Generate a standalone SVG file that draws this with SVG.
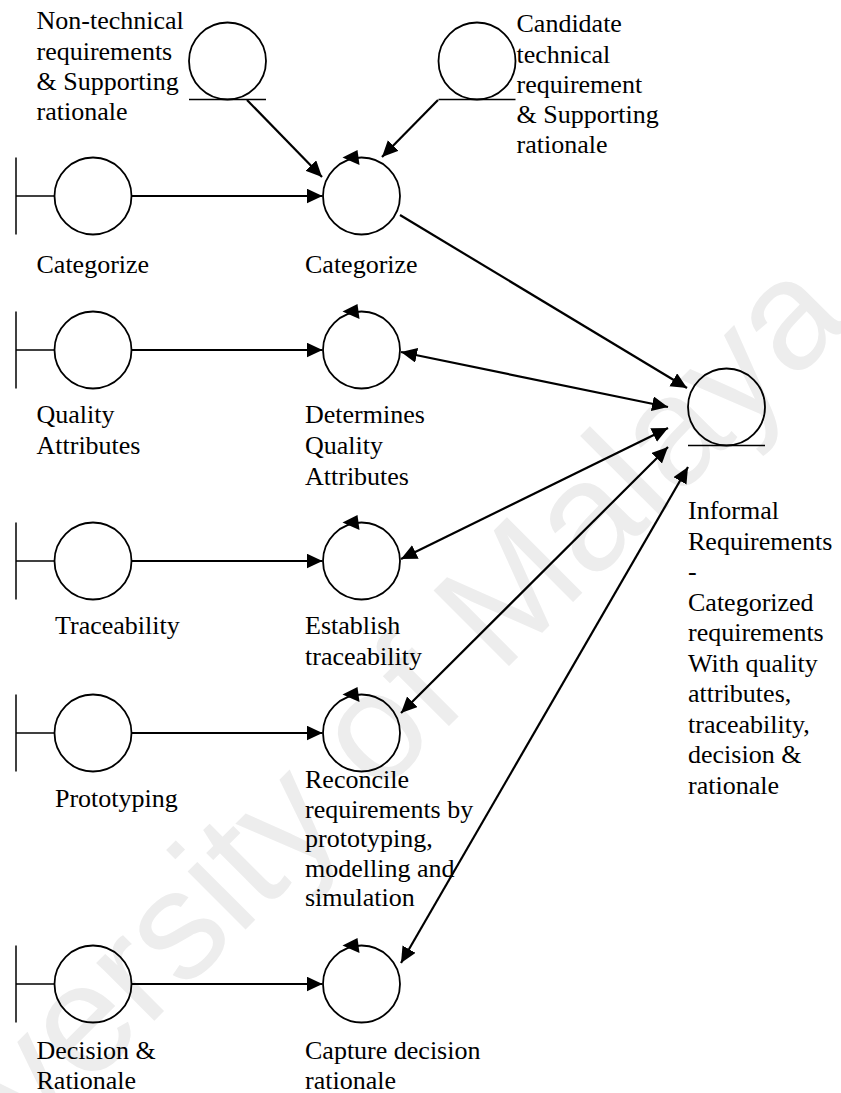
<svg xmlns="http://www.w3.org/2000/svg" width="841" height="1093" viewBox="0 0 841 1093">
  <defs>
    <style>
      .bg { fill: #ffffff; }
      .wm { font-family: "Liberation Sans", Arial, sans-serif; font-size: 155px; fill: #ededed; }
      .shape { fill: none; stroke: #000; stroke-width: 1.8; }
      .rule { fill: none; stroke: #000; stroke-width: 1.5; }
      .flow { fill: none; stroke: #000; stroke-width: 2.2; }
      .head { fill: #000; stroke: none; }
      .lbl { font-family: "Liberation Serif", "Times New Roman", serif; font-size: 26px; fill: #000; }
    </style>
    <marker id="arrow" markerUnits="userSpaceOnUse" markerWidth="18" markerHeight="16" refX="16" refY="7.5" orient="auto-start-reverse" viewBox="0 0 18 16">
      <path d="M0,0 L16,7.5 L0,15 z" fill="#000"/>
    </marker>
    <!-- control object: circle with a tangent arrowhead on top -->
    <g id="control">
      <circle cx="0" cy="0" r="38.5" class="shape"/>
      <polygon class="head" points="-19,-38.5 -4,-46 -2,-31"/>
    </g>
    <!-- boundary object: circle attached to a vertical bar -->
    <g id="boundary">
      <circle cx="0" cy="0" r="38.5" class="shape"/>
      <line x1="-77" y1="-38.5" x2="-77" y2="38.5" class="rule"/>
      <line x1="-77" y1="0" x2="-38.5" y2="0" class="rule"/>
    </g>
    <!-- entity object: circle resting on a line -->
    <g id="entity">
      <circle cx="0" cy="0" r="38.5" class="shape"/>
      <line x1="-38.5" y1="38.5" x2="38.5" y2="38.5" class="rule"/>
    </g>
  </defs>

  <rect class="bg" x="0" y="0" width="841" height="1093"/>

  <text class="wm" transform="translate(360,815) rotate(-45)" text-anchor="middle">University of Malaya</text>

  <g id="connectors">
    <line class="flow" x1="247" y1="100" x2="322" y2="177" marker-end="url(#arrow)"/>
    <line class="flow" x1="438" y1="100" x2="382" y2="157" marker-end="url(#arrow)"/>
    <line class="flow" x1="131.5" y1="196" x2="322.5" y2="196" marker-end="url(#arrow)"/>
    <line class="flow" x1="131.5" y1="350" x2="322.5" y2="350" marker-end="url(#arrow)"/>
    <line class="flow" x1="131.5" y1="561" x2="322.5" y2="561" marker-end="url(#arrow)"/>
    <line class="flow" x1="131.5" y1="733" x2="322.5" y2="733" marker-end="url(#arrow)"/>
    <line class="flow" x1="131.5" y1="984" x2="322.5" y2="984" marker-end="url(#arrow)"/>
    <line class="flow" x1="400" y1="215" x2="687" y2="388" marker-end="url(#arrow)"/>
    <line class="flow" x1="401" y1="352" x2="668" y2="407" marker-start="url(#arrow)" marker-end="url(#arrow)"/>
    <line class="flow" x1="401" y1="559" x2="668" y2="428" marker-start="url(#arrow)" marker-end="url(#arrow)"/>
    <line class="flow" x1="401" y1="713" x2="668" y2="447" marker-start="url(#arrow)" marker-end="url(#arrow)"/>
    <line class="flow" x1="401" y1="963" x2="688" y2="467" marker-start="url(#arrow)" marker-end="url(#arrow)"/>
  </g>

  <g id="non-technical-requirements">
    <use href="#entity" x="227.5" y="61"/>
    <text class="lbl" x="36.5"><tspan x="36.5" y="29.3">Non-technical</tspan><tspan x="36.5" y="59.5">requirements</tspan><tspan x="36.5" y="89.7">&amp; Supporting</tspan><tspan x="36.5" y="120">rationale</tspan></text>
  </g>

  <g id="candidate-technical-requirement">
    <use href="#entity" x="477" y="61"/>
    <text class="lbl"><tspan x="516.5" y="32.3">Candidate</tspan><tspan x="516.5" y="62.5">technical</tspan><tspan x="516.5" y="92.8">requirement</tspan><tspan x="516.5" y="123">&amp; Supporting</tspan><tspan x="516.5" y="153.3">rationale</tspan></text>
  </g>

  <g id="categorize-boundary">
    <use href="#boundary" x="93" y="196"/>
    <text class="lbl" x="36.5" y="273.3">Categorize</text>
  </g>
  <g id="categorize-control">
    <use href="#control" x="361.5" y="196"/>
    <text class="lbl" x="305" y="273.3">Categorize</text>
  </g>

  <g id="quality-attributes-boundary">
    <use href="#boundary" x="93" y="350"/>
    <text class="lbl"><tspan x="36.5" y="423.3">Quality</tspan><tspan x="36.5" y="454">Attributes</tspan></text>
  </g>
  <g id="determines-quality-attributes">
    <use href="#control" x="361.5" y="350"/>
    <text class="lbl"><tspan x="305" y="423.3">Determines</tspan><tspan x="305" y="454">Quality</tspan><tspan x="305" y="484.5">Attributes</tspan></text>
  </g>

  <g id="traceability-boundary">
    <use href="#boundary" x="93" y="561"/>
    <text class="lbl" x="55" y="633.5">Traceability</text>
  </g>
  <g id="establish-traceability">
    <use href="#control" x="361.5" y="561"/>
    <text class="lbl"><tspan x="305" y="634">Establish</tspan><tspan x="305" y="664.5">traceability</tspan></text>
  </g>

  <g id="prototyping-boundary">
    <use href="#boundary" x="93" y="733"/>
    <text class="lbl" x="55" y="806.5">Prototyping</text>
  </g>
  <g id="reconcile-requirements">
    <use href="#control" x="361.5" y="733"/>
    <text class="lbl"><tspan x="305" y="788">Reconcile</tspan><tspan x="305" y="817.5">requirements by</tspan><tspan x="305" y="847">prototyping,</tspan><tspan x="305" y="876.5">modelling and</tspan><tspan x="305" y="905.5">simulation</tspan></text>
  </g>

  <g id="decision-rationale-boundary">
    <use href="#boundary" x="93" y="984"/>
    <text class="lbl"><tspan x="36.5" y="1059">Decision &amp;</tspan><tspan x="36.5" y="1088.5">Rationale</tspan></text>
  </g>
  <g id="capture-decision-rationale">
    <use href="#control" x="361.5" y="984"/>
    <text class="lbl"><tspan x="305" y="1059">Capture decision</tspan><tspan x="305" y="1088.5">rationale</tspan></text>
  </g>

  <g id="informal-requirements">
    <use href="#entity" x="726.5" y="407"/>
    <text class="lbl"><tspan x="688" y="519.3">Informal</tspan><tspan x="688" y="549.5">Requirements</tspan><tspan x="688" y="580">-</tspan><tspan x="688" y="610.5">Categorized</tspan><tspan x="688" y="641">requirements</tspan><tspan x="688" y="671.5">With quality</tspan><tspan x="688" y="702">attributes,</tspan><tspan x="688" y="732.5">traceability,</tspan><tspan x="688" y="763">decision &amp;</tspan><tspan x="688" y="793.5">rationale</tspan></text>
  </g>
</svg>
